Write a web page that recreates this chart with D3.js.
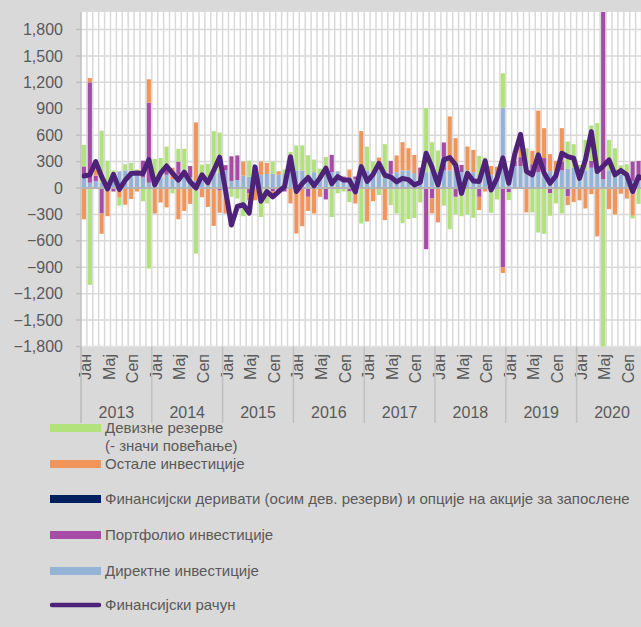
<!DOCTYPE html>
<html>
<head>
<meta charset="utf-8">
<script src="https://cdn.jsdelivr.net/npm/d3@7"></script>
<style>
body { margin: 0; background: #d9d9d9; overflow: hidden; }
text { font-family: "Liberation Sans", Arial, sans-serif; fill: #595959; }
</style>
</head>
<body>
<div id="visu"></div>
<script>
var years = ["2013", "2014", "2015", "2016", "2017", "2018", "2019", "2020"];
var monthNames = ["Јан", "Феб", "Мар", "Апр", "Мај", "Јун", "Јул", "Авг", "Сеп", "Окт", "Нов", "Дец"];
var shownMonths = ["Јан", "Мај", "Сеп"];
var yTicks = [-1800, -1500, -1200, -900, -600, -300, 0, 300, 600, 900, 1200, 1500, 1800];

// direktne investicije
var direct = [
    130, 60, 80, 60, 30, 140, 190, 200, 200, 150, 120, 60,
    90, 120, 150, 100, 150, 200, 120, 80, 150, 120, 180, 170,
    200, 80, 90, 140, 130, 170, 150, 160, 160, 150, 160, 220,
    200, 200, 150, 180, 150, 200, 180, 190, 100, 120, 100, 200,
    200, 180, 200, 180, 160, 180, 200, 200, 170, 100, 180, 200,
    180, 200, 200, 200, 180, 200, 180, 150, 200, 150, 140, 912,
    190, 250, 250, 200, 180, 180, 200, 190, 180, 200, 220, 230,
    180, 200, 230, 200, 100, 200, 180, 150, 150, 80, 130, 150
];
// portfolio investicije
var portfolio = [
    115, 1140, 60, -290, 0, -40, 0, 0, 0, 0, 190, 910,
    0, 0, 100, 0, 150, 0, 130, 0, 0, 0, 0, -30,
    60, 280, 280, 0, -60, 80, 0, 0, -40, -30, -40, 0,
    0, 0, -100, 0, 0, -130, 196, 0, 30, -40, 30, 0,
    0, 0, 0, 0, 148, 0, 0, 0, 0, 132, -695, -118,
    0, 317, 0, -100, 82, 0, 0, -100, 0, 0, 0, -900,
    -50, 60, 100, 0, 90, 140, 140, -60, 0, 100, -94, 0,
    0, 0, 80, 0, 2250, 0, 0, 0, 0, 220, 178, 50
];
// finansijski derivati
var derivatives = [
    0, 0, 0, 0, 0, 0, 0, 0, 0, 0, 0, 0,
    0, 0, 0, 0, 0, 0, 0, 0, 0, 0, 0, 0,
    0, 0, 0, 0, 0, 0, 0, 0, 0, 0, 0, 0,
    0, 0, 0, 0, 0, 0, 0, 0, 0, 0, 0, 0,
    0, 0, 0, 0, 0, 0, 0, 0, 0, 0, 0, 0,
    0, 0, 0, 0, 0, 0, 0, 0, 0, 0, 0, 0,
    0, 0, 0, 0, 0, 0, 0, 0, 0, 0, 0, 0,
    0, 0, 0, 0, 0, -8, -10, -8, 0, 0, 0, 0
];
// ostale investicije
var other = [
    -355, 50, 160, -230, -320, 0, -110, -190, -125, -40, 0, 265,
    -290, -165, -220, 130, -355, -260, -180, 665, -105, -215, -430, -250,
    -290, 0, 0, 160, -80, -140, 150, 125, -60, 40, 0, -175,
    -517, -433, -160, -289, -100, 40, 0, 0, 0, 90, -175, 446,
    -380, -150, 146, -365, 0, 189, 320, 252, 206, 0, 0, -170,
    -390, 0, 613, 366, 0, 271, 253, -150, -40, 101, 103, -65,
    0, 70, 250, -277, 152, 558, 340, 194, 128, 380, -100, -160,
    -140, -232, -70, -550, 0, -232, -289, -57, -120, -315, 0, -100
];
// devizne rezerve (- znaci povecanje)
var reserves = [
    245, -1100, 0, 590, 280, 60, -90, 70, 85, 60, -150, -915,
    240, 220, 220, -60, 145, 245, 0, -745, 115, 155, 465, 460,
    0, -100, -120, -320, 180, 0, -330, -175, 140, 0, 50, 190,
    283, 283, 222, 143, 70, 113, -330, -60, -40, -120, 0, -403,
    270, 120, -80, 318, -194, -289, -400, -353, -340, -163, 728, 320,
    246, -200, -467, -200, -320, -300, -338, 215, 146, -281, -130, 390,
    -87, 0, 0, 252, -277, -505, -520, -255, -175, -289, 308, 268,
    82, 347, 400, 537, -2100, 347, 272, 108, 120, -30, -180, 0
];
// finansijski racun
var financialAccount = [
    137, 150, 300, 130, -10, 155, -15, 90, 165, 170, 165, 322,
    35, 170, 250, 170, 90, 180, 70, 0, 150, 60, 200, 350,
    -30, -420, -210, -190, -285, 240, -150, -40, -100, -40, 15, 355,
    -40, 50, 120, 25, 115, 225, 50, 130, 90, 90, -45, 243,
    75, 155, 280, 145, 125, 70, 110, 95, 35, 65, 395, 235,
    35, 319, 346, 262, -61, 167, 80, 75, 308, -23, 110, 342,
    55, 380, 610, 190, 150, 376, 170, 53, 140, 395, 357, 338,
    110, 320, 640, 187, 250, 319, 150, 200, 150, -40, 130, 100
];

var seriesKeys = ["direct", "portfolio", "derivatives", "other", "reserves"];
var seriesColors = {
    "direct": "#95b3d7",
    "portfolio": "#a64ca6",
    "derivatives": "#002060",
    "other": "#f0965a",
    "reserves": "#b2e27c"
};
var lineColor = "#4f2279";

var legendItems = [
    { key: "reserves", label: ["Девизне резерве", "(- значи повећање)"], y: 428 },
    { key: "other", label: ["Остале инвестиције"], y: 464 },
    { key: "derivatives", label: ["Финансијски деривати (осим дев. резерви) и опције на акције за запослене"], y: 499 },
    { key: "portfolio", label: ["Портфолио инвестиције"], y: 535 },
    { key: "direct", label: ["Директне инвестиције"], y: 571 },
    { key: "line", label: ["Финансијски рачун"], y: 605 }
];

var width = 641, height = 627;
var left = 81, step = 5.9;
var plotTop = 11.9, plotBottom = 346.5;

var months = [];
years.forEach(function (yr) {
    monthNames.forEach(function (m, j) { months.push(yr + "-" + j); });
});

var rows = months.map(function (m, i) {
    return {
        month: m,
        direct: direct[i],
        portfolio: portfolio[i],
        derivatives: derivatives[i],
        other: other[i],
        reserves: reserves[i]
    };
});

var x = d3.scaleBand()
    .domain(months)
    .range([left, left + step * months.length])
    .paddingInner(0.3)
    .paddingOuter(0.15);

var y = d3.scaleLinear()
    .domain([-1800, 2000])
    .range([plotBottom, plotTop]);

var svg = d3.select("#visu").append("svg")
    .attr("width", width)
    .attr("height", height);

svg.append("rect")
    .attr("width", width).attr("height", height)
    .attr("fill", "#d9d9d9");

svg.append("defs").append("clipPath").attr("id", "plotclip")
    .append("rect")
    .attr("x", left).attr("y", plotTop)
    .attr("width", width - left).attr("height", plotBottom - plotTop);

// plot area
svg.append("rect")
    .attr("x", left).attr("y", plotTop)
    .attr("width", width - left).attr("height", plotBottom - plotTop)
    .attr("fill", "#ffffff");

var plot = svg.append("g").attr("clip-path", "url(#plotclip)");

// vertical gridlines, one per month
plot.append("g").selectAll("line")
    .data(months)
    .enter().append("line")
    .attr("x1", function (d) { return x(d) - x.step() * x.paddingInner() / 2 + x.step(); })
    .attr("x2", function (d) { return x(d) - x.step() * x.paddingInner() / 2 + x.step(); })
    .attr("y1", plotTop).attr("y2", plotBottom)
    .attr("stroke", "#d9d9d9").attr("stroke-width", 1.5);

// horizontal gridlines
plot.append("g").selectAll("line")
    .data(yTicks)
    .enter().append("line")
    .attr("x1", left).attr("x2", width)
    .attr("y1", function (d) { return y(d); })
    .attr("y2", function (d) { return y(d); })
    .attr("stroke", "#d9d9d9").attr("stroke-width", 1.5);

var stack = d3.stack().keys(seriesKeys).offset(d3.stackOffsetDiverging);
var stacked = stack(rows);

plot.append("g").selectAll("g")
    .data(stacked)
    .enter().append("g")
    .attr("fill", function (d) { return seriesColors[d.key]; })
    .selectAll("rect")
    .data(function (d) { return d; })
    .enter().append("rect")
    .attr("x", function (d) { return x(d.data.month); })
    .attr("width", x.bandwidth())
    .attr("y", function (d) { return y(Math.max(d[0], d[1])); })
    .attr("height", function (d) { return Math.abs(y(d[0]) - y(d[1])); });

// zero line
plot.append("line")
    .attr("x1", left).attr("x2", width)
    .attr("y1", y(0)).attr("y2", y(0))
    .attr("stroke", "#b4b4b4").attr("stroke-width", 2);

var line = d3.line()
    .x(function (d, i) { return x(months[i]) + x.bandwidth() / 2; })
    .y(function (d) { return y(d); });

plot.append("path")
    .datum(financialAccount)
    .attr("d", line)
    .attr("fill", "none")
    .attr("stroke", lineColor)
    .attr("stroke-width", 5)
    .attr("stroke-linejoin", "round")
    .attr("stroke-linecap", "round");

// y axis
var yAxis = svg.append("g");
yAxis.append("line")
    .attr("x1", left).attr("x2", left)
    .attr("y1", plotTop).attr("y2", 423)
    .attr("stroke", "#bfbfbf").attr("stroke-width", 1.5);
yAxis.selectAll("line.tick")
    .data(yTicks)
    .enter().append("line")
    .attr("class", "tick")
    .attr("x1", left - 5).attr("x2", left)
    .attr("y1", function (d) { return y(d); })
    .attr("y2", function (d) { return y(d); })
    .attr("stroke", "#bfbfbf").attr("stroke-width", 1.5);
yAxis.selectAll("text")
    .data(yTicks)
    .enter().append("text")
    .attr("x", 63)
    .attr("y", function (d) { return y(d); })
    .attr("dy", "0.35em")
    .attr("text-anchor", "end")
    .style("font-size", "16px")
    .text(function (d) { return d3.format(",")(d); });

// x axis: months and years
var xAxis = svg.append("g");
xAxis.selectAll("text.month")
    .data(months.filter(function (m) {
        return shownMonths.indexOf(monthNames[+m.split("-")[1]]) >= 0;
    }))
    .enter().append("text")
    .attr("class", "month")
    .attr("transform", function (d) {
        return "translate(" + (x(d) + x.bandwidth() / 2 + 1.5) + ",354) rotate(-90)";
    })
    .attr("dy", "0.35em")
    .attr("text-anchor", "end")
    .style("font-size", "16px")
    .text(function (d) { return monthNames[+d.split("-")[1]]; });

xAxis.selectAll("line.sep")
    .data(years)
    .enter().append("line")
    .attr("class", "sep")
    .attr("x1", function (d, i) { return left + i * 12 * step; })
    .attr("x2", function (d, i) { return left + i * 12 * step; })
    .attr("y1", plotBottom).attr("y2", 423)
    .attr("stroke", "#bfbfbf").attr("stroke-width", 1.5);

xAxis.selectAll("text.year")
    .data(years)
    .enter().append("text")
    .attr("class", "year")
    .attr("x", function (d, i) { return left + (i + 0.5) * 12 * step; })
    .attr("y", 418)
    .attr("text-anchor", "middle")
    .style("font-size", "16px")
    .text(function (d) { return d; });

// legend
var legend = svg.append("g");
legendItems.forEach(function (item) {
    if (item.key === "line") {
        legend.append("line")
            .attr("x1", 52).attr("x2", 99)
            .attr("y1", item.y).attr("y2", item.y)
            .attr("stroke", lineColor).attr("stroke-width", 4.5)
            .attr("stroke-linecap", "round");
    } else {
        legend.append("rect")
            .attr("x", 50).attr("y", item.y - 4)
            .attr("width", 51).attr("height", 8)
            .attr("fill", seriesColors[item.key]);
    }
    item.label.forEach(function (t, k) {
        legend.append("text")
            .attr("x", 105)
            .attr("y", item.y + k * 18)
            .attr("dy", "0.35em")
            .style("font-size", "15px")
            .text(t);
    });
});
</script>
</body>
</html>
